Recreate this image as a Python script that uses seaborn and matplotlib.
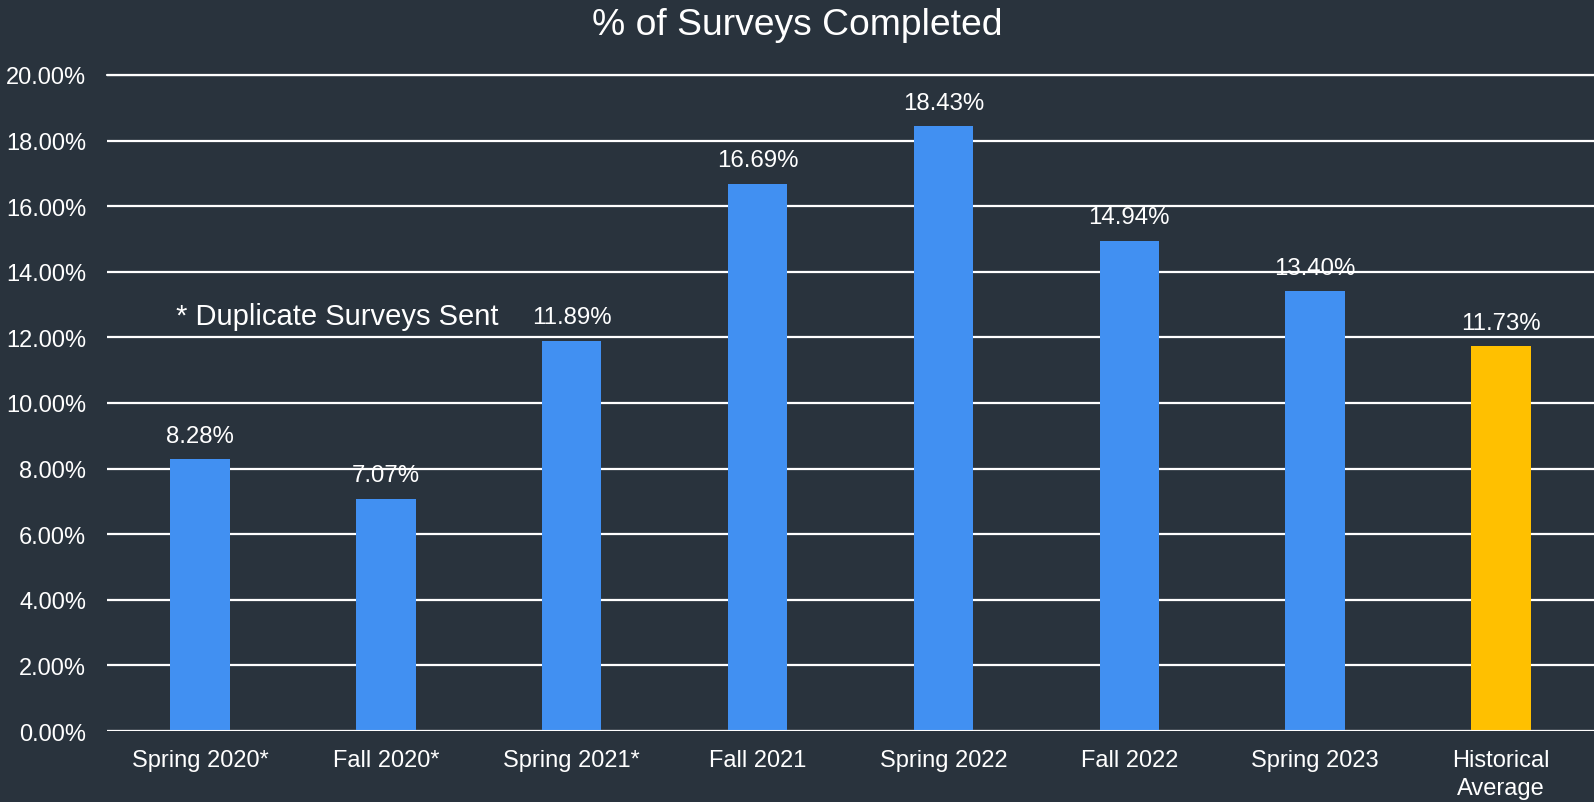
import matplotlib
matplotlib.use('Agg')
import matplotlib.pyplot as plt
import seaborn as sns
import pandas as pd

# Survey completion rates
terms = ['Spring 2020*', 'Fall 2020*', 'Spring 2021*', 'Fall 2021',
         'Spring 2022', 'Fall 2022', 'Spring 2023', 'Historical\nAverage']
pct_completed = [8.28, 7.07, 11.89, 16.69, 18.43, 14.94, 13.40, 11.73]
kind = ['term'] * 7 + ['average']

df = pd.DataFrame({'term': terms, 'pct': pct_completed, 'kind': kind})

bg = '#29333d'
sns.set_style('dark')
plt.rcParams['font.family'] = ['Liberation Sans', 'DejaVu Sans']

fig = plt.figure(figsize=(15.94, 8.03), dpi=100, facecolor=bg)
ax = fig.add_axes([0.0671, 0.0884, 0.9329, 0.817])
ax.set_facecolor(bg)

sns.barplot(data=df, x='term', y='pct', hue='kind',
            palette={'term': '#4190f2', 'average': '#ffc000'},
            width=0.32, dodge=False, legend=False, saturation=1,
            linewidth=0, ax=ax)

ax.set_ylim(0, 20)
ax.set_xlim(-0.5, 7.5)
ax.set_yticks(range(0, 21, 2))
ax.set_yticklabels([f'{v:.2f}%' for v in range(0, 21, 2)])
ax.grid(axis='y', color='white', linewidth=1.6)
ax.set_axisbelow(True)
for s in ax.spines.values():
    s.set_visible(False)
ax.axhline(0, color='white', linewidth=2.2)
ax.axhline(20, color='white', linewidth=1.6, clip_on=False)

ax.tick_params(axis='both', length=0, colors='white', labelsize=17)
ax.tick_params(axis='y', pad=15)
ax.tick_params(axis='x', pad=13)
for lbl in ax.get_xticklabels():
    lbl.set_linespacing(1.35)
ax.set_xlabel('')
ax.set_ylabel('')

# value labels above the bars
for i, v in enumerate(pct_completed):
    ax.annotate(f'{v:.2f}%', (i, v), xytext=(0, 17), textcoords='offset points',
                ha='center', va='center', color='white', fontsize=17.3)

ax.text(0.74, 12.65, '* Duplicate Surveys Sent', ha='center', va='center',
        color='white', fontsize=21)

fig.suptitle('% of Surveys Completed', y=0.99, color='white', fontsize=26.8)

fig.savefig('out.png', dpi=100, facecolor=bg)
